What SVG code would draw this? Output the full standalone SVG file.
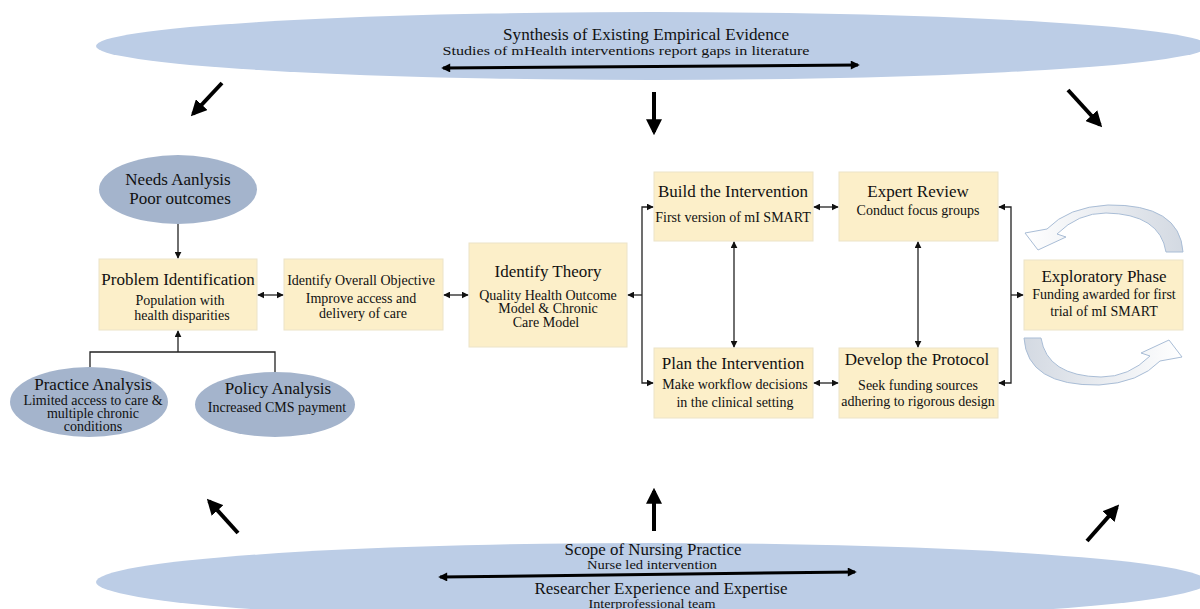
<svg xmlns="http://www.w3.org/2000/svg" width="1200" height="609" viewBox="0 0 1200 609">
<style>
text{font-family:"Liberation Serif","Times New Roman",serif;fill:#111;text-anchor:middle}
.box{fill:#fcefc9;stroke:#ece3c8;stroke-width:1}
.oval{fill:#a4b4cc}
.big{fill:#bccde6}
.t17{font-size:17px}
.t14{font-size:14px}
.t13{font-size:13px}
.ln{stroke:#222;stroke-width:1.3;fill:none}
.thick{stroke:#000;stroke-width:4;fill:none}
.dbl{stroke:#000;stroke-width:3;fill:none}
.curv{fill:url(#cg);stroke:#a9bdd6;stroke-width:1}
</style>
<defs>
<marker id="ah" viewBox="0 0 10 10" refX="9" refY="5" markerWidth="7" markerHeight="7" markerUnits="userSpaceOnUse" orient="auto-start-reverse"><path d="M0,0 L10,5 L0,10 Z" fill="#111"/></marker>
<marker id="bh" viewBox="0 0 10 10" refX="8" refY="5" markerWidth="4" markerHeight="4" orient="auto-start-reverse"><path d="M0,0 L10,5 L0,10 Z" fill="#000"/></marker>
<marker id="dh" viewBox="0 0 10 10" refX="8" refY="5" markerWidth="3.5" markerHeight="3" orient="auto-start-reverse"><path d="M0,0 L10,5 L0,10 Z" fill="#000"/></marker>
<linearGradient id="cg" x1="0" y1="0" x2="1" y2="0"><stop offset="0" stop-color="#ffffff"/><stop offset="1" stop-color="#d3d9e2"/></linearGradient>
</defs>

<g id="evidence">
<ellipse class="big" cx="652" cy="46" rx="556" ry="34"/>
<text class="t17" x="646" y="40" textLength="286" lengthAdjust="spacingAndGlyphs">Synthesis of Existing Empirical Evidence</text>
<text class="t13" x="626" y="55" textLength="367" lengthAdjust="spacingAndGlyphs">Studies of mHealth interventions report gaps in literature</text>
</g>
<g id="scope">
<ellipse class="big" cx="652" cy="582" rx="556" ry="39"/>
<text class="t17" x="653" y="555" textLength="177" lengthAdjust="spacingAndGlyphs">Scope of Nursing Practice</text>
<text class="t13" x="652" y="569" textLength="130" lengthAdjust="spacingAndGlyphs">Nurse led intervention</text>
<text class="t17" x="661" y="594" textLength="253" lengthAdjust="spacingAndGlyphs">Researcher Experience and Expertise</text>
<text class="t13" x="652" y="608" textLength="127" lengthAdjust="spacingAndGlyphs">Interprofessional team</text>
</g>

<g id="needs">
<ellipse class="oval" cx="178" cy="189.5" rx="79" ry="34.5"/>
<text class="t17" x="178" y="185">Needs Aanlysis</text>
<text class="t17" x="180" y="204">Poor outcomes</text>
</g>
<g id="problem">
<rect class="box" x="99" y="259" width="158" height="71"/>
<text class="t17" x="178" y="285">Problem Identification</text>
<text class="t14" x="180" y="305">Population with</text>
<text class="t14" x="182" y="320">health disparities</text>
</g>
<g id="practice">
<ellipse class="oval" cx="89" cy="402" rx="79" ry="35"/>
<text class="t17" x="93" y="390">Practice Analysis</text>
<text class="t14" x="93" y="405">Limited access to care &amp;</text>
<text class="t14" x="93" y="418">multiple chronic</text>
<text class="t14" x="93" y="431">conditions</text>
</g>
<g id="policy">
<ellipse class="oval" cx="275" cy="404.5" rx="80" ry="32.5"/>
<text class="t17" x="278" y="394">Policy Analysis</text>
<text class="t14" x="277" y="412">Increased CMS payment</text>
</g>
<g id="objective">
<rect class="box" x="284" y="259" width="159" height="71"/>
<text class="t14" x="361" y="285">Identify Overall Objective</text>
<text class="t14" x="361" y="303">Improve access and</text>
<text class="t14" x="363" y="318">delivery of care</text>
</g>
<g id="theory">
<rect class="box" x="469" y="243" width="158" height="104"/>
<text class="t17" x="548" y="277">Identify Theory</text>
<text class="t14" x="548" y="300">Quality Health Outcome</text>
<text class="t14" x="548" y="313">Model &amp; Chronic</text>
<text class="t14" x="546" y="327">Care Model</text>
</g>
<g id="build">
<rect class="box" x="654" y="172" width="159" height="69"/>
<text class="t17" x="733" y="197">Build the Intervention</text>
<text class="t14" x="733" y="222">First version of mI SMART</text>
</g>
<g id="expert">
<rect class="box" x="839" y="172" width="159" height="69"/>
<text class="t17" x="918" y="197">Expert Review</text>
<text class="t14" x="918" y="215">Conduct focus groups</text>
</g>
<g id="plan">
<rect class="box" x="654" y="348" width="159" height="70"/>
<text class="t17" x="733" y="369">Plan the Intervention</text>
<text class="t14" x="735" y="389">Make workflow decisions</text>
<text class="t14" x="735" y="407">in the clinical setting</text>
</g>
<g id="protocol">
<rect class="box" x="839" y="348" width="159" height="70"/>
<text class="t17" x="917" y="365">Develop the Protocol</text>
<text class="t14" x="918" y="390">Seek funding sources</text>
<text class="t14" x="918" y="406">adhering to rigorous design</text>
</g>
<g id="exploratory">
<rect class="box" x="1024" y="260" width="159" height="70"/>
<text class="t17" x="1104" y="282">Exploratory Phase</text>
<text class="t14" x="1104" y="299">Funding awarded for first</text>
<text class="t14" x="1104" y="316">trial of mI SMART</text>
</g>

<g id="connectors">
<line class="dbl" x1="443" y1="68" x2="858" y2="65" marker-start="url(#dh)" marker-end="url(#dh)"/>
<line class="dbl" x1="440" y1="577" x2="855" y2="572" marker-start="url(#dh)" marker-end="url(#dh)"/>
<line class="thick" x1="222" y1="83" x2="193" y2="114" marker-end="url(#bh)"/>
<line class="thick" x1="654" y1="92" x2="654" y2="132" marker-end="url(#bh)"/>
<line class="thick" x1="1068" y1="90" x2="1100" y2="125" marker-end="url(#bh)"/>
<line class="thick" x1="238" y1="533" x2="209" y2="501" marker-end="url(#bh)"/>
<line class="thick" x1="654" y1="531" x2="654" y2="491" marker-end="url(#bh)"/>
<line class="thick" x1="1087" y1="541" x2="1117" y2="507" marker-end="url(#bh)"/>

<line class="ln" x1="178" y1="224" x2="178" y2="258" marker-end="url(#ah)"/>
<path class="ln" d="M90,367 V352 H275 V372"/>
<line class="ln" x1="178" y1="352" x2="178" y2="331" marker-end="url(#ah)"/>
<line class="ln" x1="258" y1="295" x2="283" y2="295" marker-start="url(#ah)" marker-end="url(#ah)"/>
<line class="ln" x1="444" y1="295" x2="468" y2="295" marker-start="url(#ah)" marker-end="url(#ah)"/>
<line class="ln" x1="642" y1="295" x2="628" y2="295" marker-end="url(#ah)"/>
<path class="ln" d="M653,207 H642 V383 H653" marker-start="url(#ah)" marker-end="url(#ah)"/>
<line class="ln" x1="814" y1="207" x2="838" y2="207" marker-start="url(#ah)" marker-end="url(#ah)"/>
<line class="ln" x1="814" y1="383" x2="838" y2="383" marker-start="url(#ah)" marker-end="url(#ah)"/>
<line class="ln" x1="734" y1="242" x2="734" y2="347" marker-start="url(#ah)" marker-end="url(#ah)"/>
<line class="ln" x1="918" y1="242" x2="918" y2="347" marker-start="url(#ah)" marker-end="url(#ah)"/>
<path class="ln" d="M999,207 H1011 V383 H999" marker-start="url(#ah)" marker-end="url(#ah)"/>
<line class="ln" x1="1011" y1="295" x2="1023" y2="295" marker-end="url(#ah)"/>

<path class="curv" d="M1183,252 Q1180,204 1108,205 Q1068,207 1047,229 L1025,233 L1038,250 L1066,237 L1057,234 Q1078,213 1106,213 Q1160,214 1166,252 Z"/>
<path class="curv" transform="rotate(180 1103.5 295)" d="M1183,252 Q1180,204 1108,205 Q1068,207 1047,229 L1025,233 L1038,250 L1066,237 L1057,234 Q1078,213 1106,213 Q1160,214 1166,252 Z"/>
</g>
</svg>
